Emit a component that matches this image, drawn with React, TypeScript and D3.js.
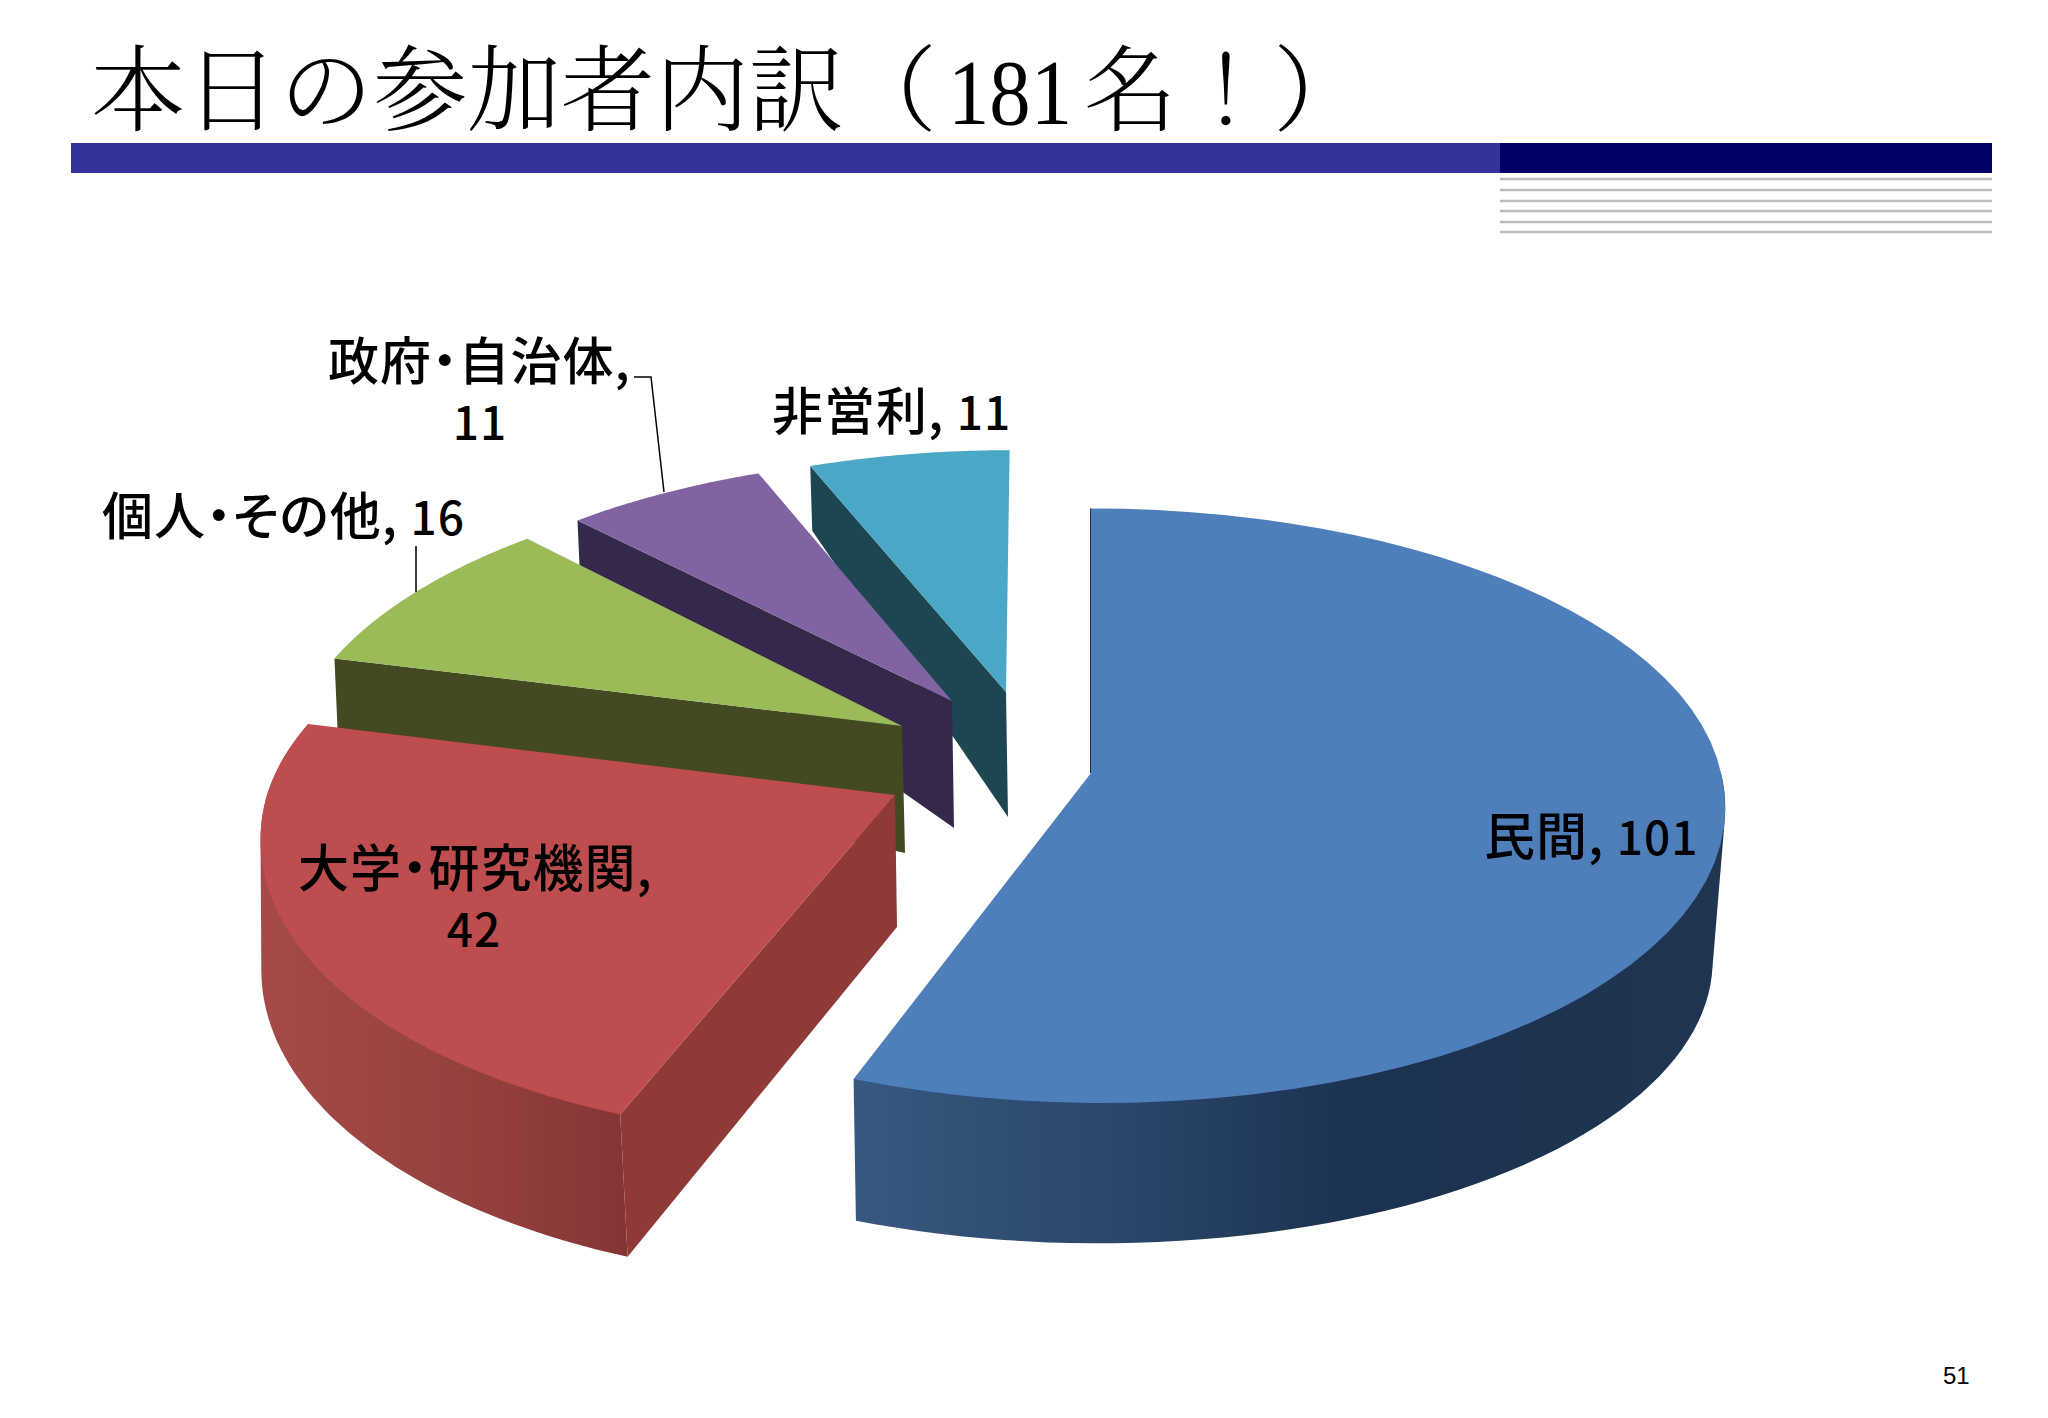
import React from 'react'
import { pie, line, range, scaleLinear, polygonHull } from 'd3'

// chart data
const categories = ['民間', '大学・研究機関', '個人・その他', '政府・自治体', '非営利']
const values = [101, 42, 16, 11, 11]
const topColors = ['#4f7fba', '#bd4d4e', '#9bbb59', '#8064a2', '#4aa8c6']
const wallColors = ['#1c3350', '#8f3a38', '#434a22', '#35284a', '#1d4652']
const pageNumber = '51'

const width = 2048
const height = 1418
const FONT = '"Noto Sans CJK JP", sans-serif'
const TITLE_FONT = '"Noto Serif CJK JP", ' + FONT
const PERSP = 0.1

type Proj = { ax: number, ay: number, s: number, tb: number, tf: number, kb: number, kf: number }

// each wedge was pulled out by hand in the original, so each has its own projection
const topProj: Proj[] = [
    { ax: 1091, ay: 773, s: 630, tb: 291, tf: 297, kb: 0, kf: 10 },
    { ax: 895, ay: 795, s: 628, tb: 292, tf: 310, kb: -27, kf: -27 },
    { ax: 902, ay: 726, s: 607, tb: 278, tf: 278, kb: -25, kf: -25 },
    { ax: 952, ay: 701, s: 590, tb: 268, tf: 268, kb: -9, kf: -9 },
    { ax: 1006, ay: 692, s: 584, tb: 266, tf: 266, kb: -4, kf: -4 },
]
const bottomProj: Proj[] = [
    { ax: 1093, ay: 930, s: 616, tb: 282, tf: 282, kb: 0, kf: 5 },
    { ax: 897, ay: 927, s: 630, tb: 320, tf: 320, kb: -21, kf: -21 },
    { ax: 905, ay: 853, s: 607, tb: 514, tf: 514, kb: -25, kf: -25 },
    { ax: 954, ay: 828, s: 590, tb: 390, tf: 390, kb: -9, kf: -9 },
    { ax: 1008, ay: 817, s: 584, tb: 337, tf: 337, kb: -4, kf: -4 },
]
// which radial cut shows its wall
const cutAngle: ('start' | 'end' | null)[] = [null, 'start', 'start', 'start', 'start']
const hasOuterWall = [true, true, false, false, false]

const outerGradients = [
    [['0%', '#38587f'], ['30%', '#2a476c'], ['58%', '#1b3250'], ['100%', '#1f3551']],
    [['0%', '#a54a48'], ['60%', '#93403d'], ['100%', '#853436']],
]

const hline = [179, 190, 201, 211, 222, 232]

function project(p: Proj, angle: number): [number, number] {
    const u = Math.sin(angle)
    const v = -Math.cos(angle)
    const w = 1 / (1 - PERSP * v)
    const k = v < 0 ? p.kb : p.kf
    const t = v < 0 ? p.tb : p.tf
    return [p.ax + (p.s * u + k * v) * w, p.ay + t * v * w]
}

function arcPoints(p: Proj, a0: number, a1: number): [number, number][] {
    const n = 60
    const t = scaleLinear().domain([0, n]).range([a0, a1])
    return range(n + 1).map((i) => project(p, t(i)))
}

const path = line()

function Label(props: { x: number, y: number, name?: string, num?: string | number, x2?: number }) {
    // second line (x2) is used when the number wraps under the name
    return (
        <text y={props.y} fontFamily={FONT} fontSize={51} fontWeight={500} fill="#000" letterSpacing={1}
            style={{ fontFeatureSettings: '"palt"' }}>
            <tspan x={props.x}>{props.name}{props.x2 ? ',' : ', '}</tspan>
            {props.x2
                ? <tspan x={props.x2} dy={60} fontSize={46} textAnchor="middle">{props.num}</tspan>
                : <tspan fontSize={46}>{props.num}</tspan>}
        </text>
    )
}

export default function App() {
    const arcs = pie<number>().sort(null)(values)
    const order = range(values.length).reverse()

    return (
        <svg width={width} height={height} style={{ position: 'absolute', left: 0, top: 0, background: '#fff' }}>
            <defs>
                {outerGradients.map((stops, i) => (
                    <linearGradient key={i} id={`wall${i}`} gradientUnits="userSpaceOnUse"
                        x1={i === 0 ? 854 : 262} x2={i === 0 ? 1726 : 630} y1={0} y2={0}>
                        {stops.map((s) => <stop key={s[0]} offset={s[0]} stopColor={s[1]} />)}
                    </linearGradient>
                ))}
            </defs>

            {/* title + header bars */}
            <g fill="#000" fontSize={94}>
                <text x={91} y={124} fontFamily={TITLE_FONT} fontWeight={300}>本日の参加者内訳（</text>
                <text x={948} y={124} fontFamily="Liberation Serif" textLength={124} lengthAdjust="spacingAndGlyphs">181</text>
                <text y={124} fontFamily={TITLE_FONT} fontWeight={300}>
                    <tspan x={1084}>名</tspan>
                    <tspan x={1179}>！</tspan>
                    <tspan x={1273}>）</tspan>
                </text>
            </g>
            <rect x={71} y={143} width={1430} height={30} fill="#333399" />
            <rect x={1500} y={143} width={492} height={30} fill="#000066" />
            {hline.map((y) => <line key={y} x1={1500} x2={1992} y1={y} y2={y} stroke="#bcbcbc" strokeWidth={2.5} />)}

            {/* wedges, back to front */}
            {order.map((i) => {
                const a = arcs[i]
                const top = topProj[i]
                const bot = bottomProj[i]
                const topArc = arcPoints(top, a.startAngle, a.endAngle)
                const cut = cutAngle[i]
                const cutA = cut === 'start' ? a.startAngle : a.endAngle
                // outer wall = hull of the visible part of both rims, so the silhouette runs straight between them
                const wallStart = Math.max(a.startAngle, Math.PI / 2)
                const hull = hasOuterWall[i]
                    ? polygonHull([...arcPoints(top, wallStart, a.endAngle), ...arcPoints(bot, wallStart, a.endAngle)])
                    : null
                return (
                    <g key={categories[i]}>
                        {hull && <path d={path(hull) + 'Z'} fill={`url(#wall${i})`} />}
                        {cut && (
                            <path
                                d={path([[top.ax, top.ay], project(top, cutA), project(bot, cutA), [bot.ax, bot.ay]]) + 'Z'}
                                fill={wallColors[i]} />
                        )}
                        {/* thin dark sliver along the back cut of the big wedge */}
                        {i === 0 && (
                            <path d={path([project(top, a.startAngle), [top.ax, top.ay]]) ?? ''}
                                stroke={wallColors[i]} strokeWidth={2} fill="none" />
                        )}
                        <path d={path([[top.ax, top.ay], ...topArc]) + 'Z'} fill={topColors[i]} />
                    </g>
                )
            })}

            {/* leader lines */}
            <path d="M416 546V592" fill="none" stroke="#000" strokeWidth={1.5} />
            <path d="M634 377H651L664 492" fill="none" stroke="#000" strokeWidth={1.5} />

            {/* data labels */}
            <Label x={1484} y={855} name={categories[0]} num={values[0]} />
            <Label x={298} y={887} name={categories[1]} num={values[1]} x2={474} />
            <Label x={102} y={535} name={categories[2]} num={values[2]} />
            <Label x={328} y={380} name={categories[3]} num={values[3]} x2={480} />
            <Label x={772} y={430} name={categories[4]} num={values[4]} />

            <text x={1943} y={1384} fontFamily="Liberation Sans" fontSize={24} fill="#000">{pageNumber}</text>
        </svg>
    )
}
